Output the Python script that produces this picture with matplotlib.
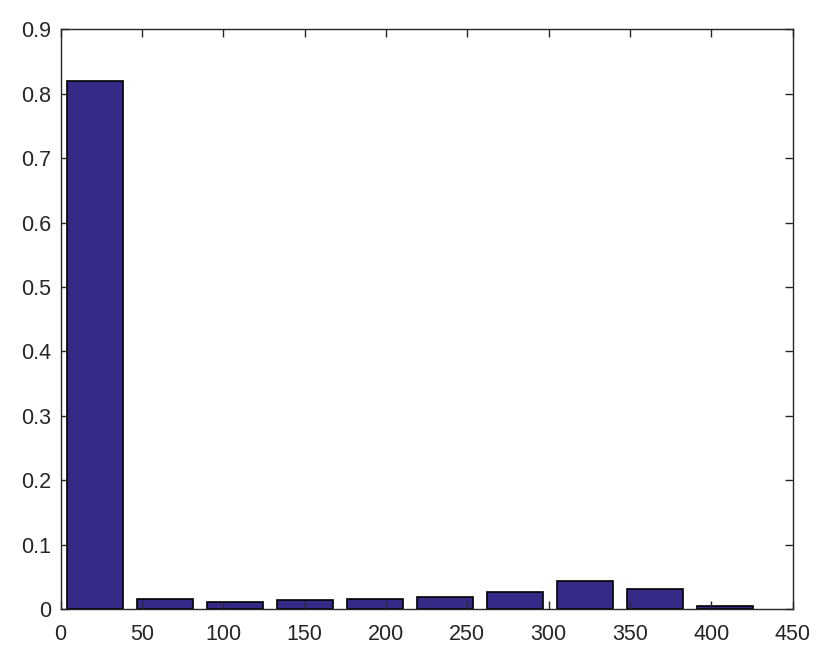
import matplotlib
matplotlib.use("Agg")
import matplotlib.pyplot as plt
import numpy as np

bin_centers = [21.5, 64.5, 107.5, 150.5, 193.5, 236.5, 279.5, 322.5, 365.5, 408.5]
probabilities = [0.819, 0.016, 0.011, 0.0145, 0.016, 0.0186, 0.027, 0.043, 0.031, 0.005]
x_ticks = [0, 50, 100, 150, 200, 250, 300, 350, 400, 450]
y_ticks = [0, 0.1, 0.2, 0.3, 0.4, 0.5, 0.6, 0.7, 0.8, 0.9]
y_tick_labels = ["0", "0.1", "0.2", "0.3", "0.4", "0.5", "0.6", "0.7", "0.8", "0.9"]

plt.rcParams['font.family'] = ['Liberation Sans', 'DejaVu Sans']
fig = plt.figure(figsize=(8.31, 6.58), dpi=100)
ax = fig.add_axes([60.5/831, 1 - 609/658, (792.7-60.5)/831, (609-29.3)/658])
ax.bar(bin_centers, probabilities, width=34.4, color='#352A87', edgecolor='black', linewidth=1.2)
ax.set_xlim(0, 450)
ax.set_ylim(0, 0.9)
ax.set_xticks(x_ticks)
ax.set_xticklabels([str(t) for t in x_ticks])
ax.set_yticks(y_ticks)
ax.set_yticklabels(y_tick_labels)
for s in ax.spines.values():
    s.set_color('#262626')
    s.set_linewidth(1.0)
ax.tick_params(direction='in', length=5.5, width=1.0, color='#262626', labelcolor='#262626',
               labelsize=15.5, top=True, right=True)
ax.tick_params(axis='x', pad=11)
ax.tick_params(axis='y', pad=7)
fig.savefig("out.png", dpi=100)
